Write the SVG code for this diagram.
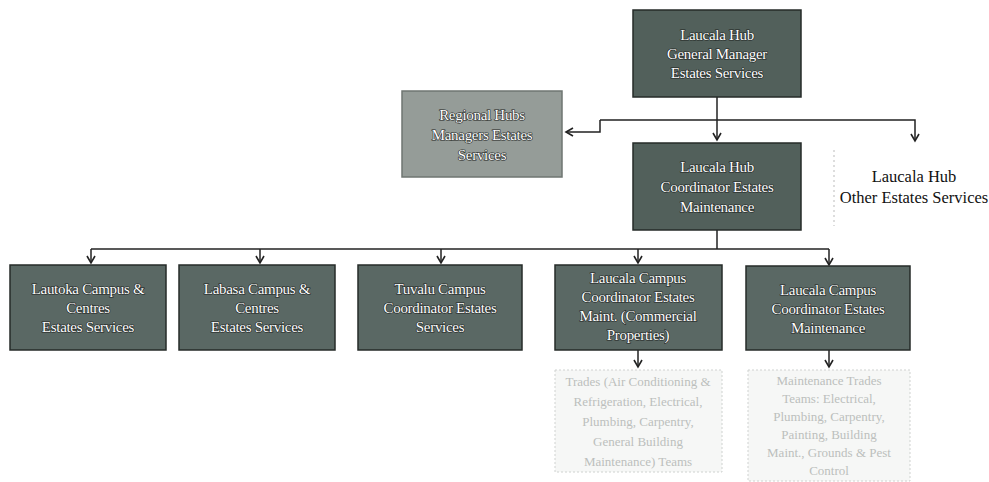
<svg xmlns="http://www.w3.org/2000/svg" width="989" height="482" viewBox="0 0 989 482">
<defs>
<style>
.box{fill:#52605b;stroke:#262b29;stroke-width:1.5}
.box2{fill:#5a6864;stroke:#262b29;stroke-width:1.5}
.lbox{fill:#959c98;stroke:#6f7672;stroke-width:1.5}
.t{font-family:"Liberation Serif",serif;font-size:15px;fill:#ffffff;stroke:#1e2422;stroke-width:1.2;paint-order:stroke;text-anchor:middle;letter-spacing:-0.3px}
.o{font-family:"Liberation Serif",serif;font-size:16.5px;fill:#111;text-anchor:middle}
.f{font-family:"Liberation Serif",serif;font-size:13px;fill:#bcbfbd;text-anchor:middle}
.fbox{fill:#f6f7f6;stroke:#cfd2d0;stroke-width:1;stroke-dasharray:2 2}
.c{fill:none;stroke:#222;stroke-width:1.5}
</style>
<marker id="ah" markerWidth="10" markerHeight="10" refX="8" refY="5" orient="auto" markerUnits="userSpaceOnUse">
<path d="M1,1 L8,5 L1,9" fill="none" stroke="#222" stroke-width="1.6"/>
</marker>
</defs>
<rect width="989" height="482" fill="#ffffff"/>

<g id="connectors">
<path class="c" d="M717,97 V140" marker-end="url(#ah)"/>
<path class="c" d="M600,120 H915 V141" marker-end="url(#ah)"/>
<path class="c" d="M600,120 V132 H566" marker-end="url(#ah)"/>
<path class="c" d="M717,230 V249"/>
<path class="c" d="M91,249 H829"/>
<path class="c" d="M91,249 V263" marker-end="url(#ah)"/>
<path class="c" d="M260,249 V263" marker-end="url(#ah)"/>
<path class="c" d="M441,249 V263" marker-end="url(#ah)"/>
<path class="c" d="M638,249 V263" marker-end="url(#ah)"/>
<path class="c" d="M829,249 V265" marker-end="url(#ah)"/>
<path class="c" d="M638,350 V367" marker-end="url(#ah)"/>
<path class="c" d="M829,350 V367" marker-end="url(#ah)"/>
</g>

<g id="gm">
<rect class="box" x="633" y="10" width="168" height="87"/>
<text class="t" x="717" y="40">Laucala Hub</text>
<text class="t" x="717" y="59">General Manager</text>
<text class="t" x="717" y="78">Estates Services</text>
</g>

<g id="regional">
<rect class="lbox" x="402" y="91" width="160" height="86"/>
<text class="t" x="482" y="120">Regional Hubs</text>
<text class="t" x="482" y="140">Managers Estates</text>
<text class="t" x="482" y="160">Services</text>
</g>

<g id="coord">
<rect class="box" x="633" y="143" width="168" height="87"/>
<text class="t" x="717" y="172">Laucala Hub</text>
<text class="t" x="717" y="192">Coordinator Estates</text>
<text class="t" x="717" y="212">Maintenance</text>
</g>

<g id="other">
<line x1="834" y1="150" x2="834" y2="226" stroke="#bbb" stroke-width="1" stroke-dasharray="2 3"/>
<text class="o" x="914" y="182">Laucala Hub</text>
<text class="o" x="914" y="203">Other Estates Services</text>
</g>

<g id="lautoka">
<rect class="box2" x="10" y="265" width="156" height="85"/>
<text class="t" x="88" y="294">Lautoka Campus &amp;</text>
<text class="t" x="88" y="313">Centres</text>
<text class="t" x="88" y="332">Estates Services</text>
</g>

<g id="labasa">
<rect class="box2" x="179" y="265" width="156" height="85"/>
<text class="t" x="257" y="294">Labasa Campus &amp;</text>
<text class="t" x="257" y="313">Centres</text>
<text class="t" x="257" y="332">Estates Services</text>
</g>

<g id="tuvalu">
<rect class="box2" x="358" y="265" width="164" height="85"/>
<text class="t" x="440" y="294">Tuvalu Campus</text>
<text class="t" x="440" y="313">Coordinator Estates</text>
<text class="t" x="440" y="332">Services</text>
</g>

<g id="laucala-comm">
<rect class="box2" x="555" y="265" width="167" height="85"/>
<text class="t" x="638" y="283">Laucala Campus</text>
<text class="t" x="638" y="302">Coordinator Estates</text>
<text class="t" x="638" y="321">Maint. (Commercial</text>
<text class="t" x="638" y="340">Properties)</text>
</g>

<g id="laucala-maint">
<rect class="box2" x="746" y="266" width="164" height="84"/>
<text class="t" x="828" y="295">Laucala Campus</text>
<text class="t" x="828" y="314">Coordinator Estates</text>
<text class="t" x="828" y="333">Maintenance</text>
</g>

<g id="trades-comm">
<rect class="fbox" x="555" y="370" width="167" height="102"/>
<text class="f" x="638" y="386">Trades (Air Conditioning &amp;</text>
<text class="f" x="638" y="406">Refrigeration, Electrical,</text>
<text class="f" x="638" y="426">Plumbing, Carpentry,</text>
<text class="f" x="638" y="446">General Building</text>
<text class="f" x="638" y="466">Maintenance) Teams</text>
</g>

<g id="trades-maint">
<rect class="fbox" x="748" y="370" width="162" height="111"/>
<text class="f" x="829" y="385">Maintenance Trades</text>
<text class="f" x="829" y="403">Teams: Electrical,</text>
<text class="f" x="829" y="421">Plumbing, Carpentry,</text>
<text class="f" x="829" y="439">Painting, Building</text>
<text class="f" x="829" y="457">Maint., Grounds &amp; Pest</text>
<text class="f" x="829" y="475">Control</text>
</g>
</svg>
